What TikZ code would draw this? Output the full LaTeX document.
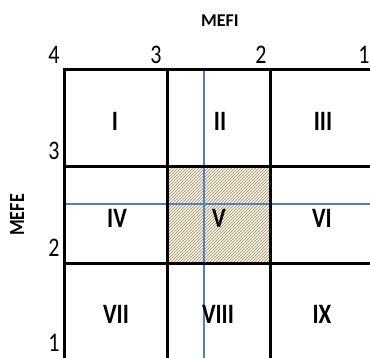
\documentclass[tikz,border=0pt]{standalone}
\usepackage{fontspec}
\setmainfont{Carlito}
\usetikzlibrary{patterns}
\definecolor{gridblue}{HTML}{4F81BD}
\definecolor{hatch}{HTML}{A3946A}
\definecolor{cream}{HTML}{F6F2E6}
\tikzset{
  gridline/.style={line width=3pt, black},
  guideline/.style={line width=1.3pt, gridblue},
  roman/.style={font=\fontsize{23}{23}\selectfont\bfseries, inner sep=0pt, yscale=1.22, transform shape},
  num/.style={font=\fontsize{22}{22}\selectfont, inner sep=0pt, yscale=1.22, transform shape},
  axis/.style={font=\fontsize{18}{18}\selectfont\bfseries, inner sep=0pt},
}
\begin{document}
\begin{tikzpicture}[x=1pt,y=-1pt]
\useasboundingbox (0,0) rectangle (370,358);
% shaded cell V
\fill[cream] (167,167) rectangle (270,264);
\fill[pattern=north east lines, pattern color=hatch] (167,167) rectangle (270,264);
% blue guide lines
\draw[guideline] (204,70) -- (204,358);
\draw[guideline] (64,204) -- (370,204);
% grid
\draw[gridline] (370,70) -- (64,70) -- (64,358);
\draw[gridline] (167,70) -- (167,358);
\draw[gridline] (270,70) -- (270,358);
\draw[gridline] (64,167) -- (370,167);
\draw[gridline] (64,264) -- (370,264);
% roman numerals
\node[roman] (c1) at (115,121) {I};
\node[roman] (c2) at (220,121) {II};
\node[roman] (c3) at (323,121) {III};
\node[roman] (c4) at (117,218) {IV};
\node[roman] (c5) at (219,218) {V};
\node[roman] (c6) at (322,218) {VI};
\node[roman] (c7) at (116,314) {VII};
\node[roman] (c8) at (218,314) {VIII};
\node[roman] (c9) at (322,314) {IX};
% top numbers
\node[num] (t4) at (54,55) {4};
\node[num] (t3) at (156,55) {3};
\node[num] (t2) at (261,55) {2};
\node[num] (t1) at (364,55) {1};
% left numbers
\node[num] (l3) at (54,151) {3};
\node[num] (l2) at (54,248) {2};
\node[num] (l1) at (54,343) {1};
% axis labels
\node[axis] (mefi) at (220,21) {MEFI};
\node[axis, rotate=90, yscale=1.2, transform shape] (mefe) at (17,215) {MEFE};
\end{tikzpicture}
\end{document}
